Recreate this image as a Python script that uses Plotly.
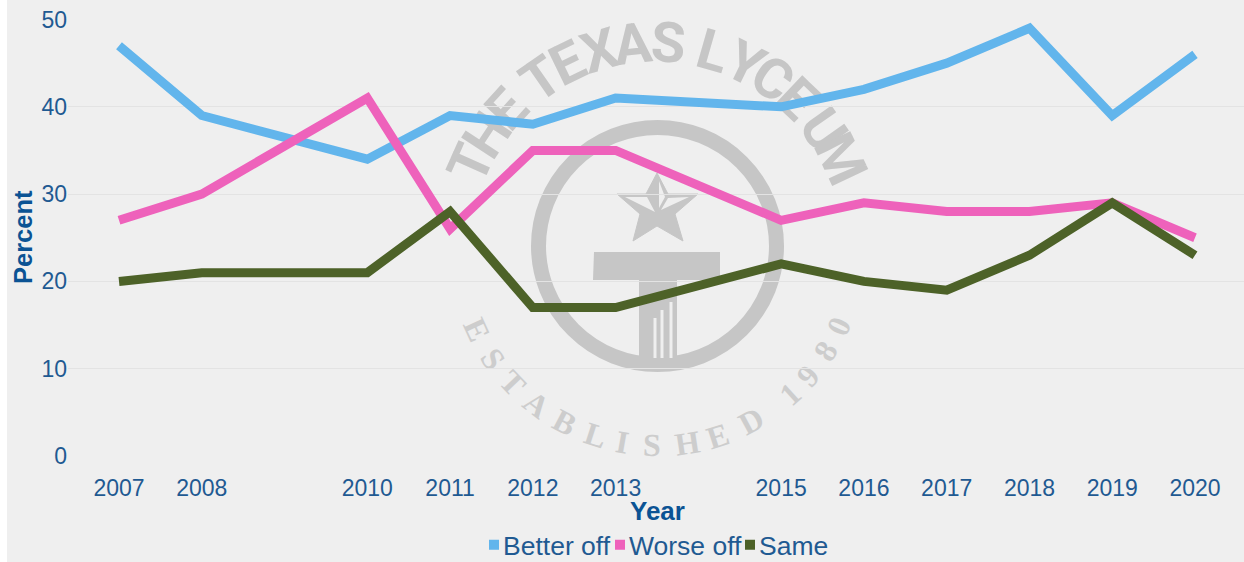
import math
import plotly.graph_objects as go

years = [2007, 2008, 2010, 2011, 2012, 2013, 2015, 2016, 2017, 2018, 2019, 2020]
better_off = [47, 39, 34, 39, 38, 41, 40, 42, 45, 49, 39, 46]
worse_off = [27, 30, 41, 26, 35, 35, 27, 29, 28, 28, 29, 25]
same = [20, 21, 21, 28, 17, 17, 22, 20, 19, 23, 29, 23]
y_ticks = [0, 10, 20, 30, 40, 50]

W, H = 1244, 562
BG, INK, TITLE, MARK = "#efefef", "#1f5a92", "#0b5394", "#c6c6c6"
L, R, T, B = 68, 1244, 19.5, 456
SERIES = [("Better off", better_off, "#62b5ec"),
          ("Worse off", worse_off, "#ee62bb"),
          ("Same", same, "#4d6228")]

def px(x):
    return x / W

def py(y):
    return 1 - y / H

top_letters = list("THETEXASLYCEUM")
top_angles = [-66, -56.7, -47.6, -34.8, -25.9, -16.4, -6.7, 3.1, 16, 26, 34.7, 43.6, 55, 64.6]
bottom_letters = list("ESTABLISHED1980")
bottom_angles = [-114.8, -124.6, -133.6, -142.6, -152.3, -162, -170, -178.6,
                 171.3, 162.3, 151.8, 138, 130.8, 122, 113.8]

def arc_text(letters, angles, cx, cy, r, size, family, color, bottom=False):
    out = []
    for ch, a in zip(letters, angles):
        rad = math.radians(a)
        x = cx + r * math.sin(rad)
        y = cy - r * math.cos(rad)
        rot = (a - 180) if bottom else a
        if rot < -180:
            rot += 360
        out.append(dict(text=f"<b>{ch}</b>", x=px(x), y=py(y), xref="paper", yref="paper",
                        showarrow=False, textangle=rot, xanchor="center", yanchor="middle",
                        font=dict(size=size, family=family, color=color)))
    return out

def path(points):
    return "M " + " L ".join(f"{px(x):.5f},{py(y):.5f}" for x, y in points) + " Z"

cx, cy = 657, 246
star = [(657, 173), (668, 194), (698, 194), (675, 214), (683, 241),
        (657, 226), (633, 241), (640, 214), (617, 194), (646, 194)]
t_shape = [(594, 252), (720, 252), (720, 280), (677, 280), (677, 358), (639, 358), (639, 280), (593, 280)]
facets = [
    [(659, 181), (665, 197), (659, 208)],
    [(689, 197), (668, 198), (661, 210)],
    [(625, 197), (647, 197), (655, 212)],
]

shapes = [
    dict(type="rect", xref="paper", yref="paper", x0=px(0), x1=px(7), y0=0, y1=1,
         fillcolor="white", line_width=0, layer="below"),
    dict(type="circle", xref="paper", yref="paper", x0=px(538.5), x1=px(776.5), y0=py(364.5), y1=py(127.5),
         line=dict(color=MARK, width=15), layer="below"),
    dict(type="path", xref="paper", yref="paper", path=path(star), fillcolor=MARK,
         line=dict(color=MARK, width=1), layer="below"),
    dict(type="path", xref="paper", yref="paper", path=path(t_shape), fillcolor=MARK,
         line_width=0, layer="below"),
]
for f in facets:
    shapes.append(dict(type="path", xref="paper", yref="paper", path=path(f), fillcolor=BG,
                       line_width=0, layer="below"))
for x, top in ((655, 318), (662, 310), (671, 302)):
    shapes.append(dict(type="line", xref="paper", yref="paper", x0=px(x), x1=px(x), y0=py(358), y1=py(top),
                       line=dict(color=BG, width=3), layer="below"))

annotations = []
annotations += arc_text(top_letters, top_angles, cx, cy, 203, 56, "Roboto", MARK)
annotations += arc_text(bottom_letters, bottom_angles, cx, cy, 199, 32, "Liberation Serif", "#cdcdcd", bottom=True)
annotations.append(dict(text="<b>Percent</b>", x=px(23), y=py(237), xref="paper", yref="paper",
                        showarrow=False, textangle=-90, xanchor="center", yanchor="middle",
                        font=dict(size=25.5, color=TITLE, family="Liberation Sans")))
annotations.append(dict(text="<b>Year</b>", x=px(657), y=py(511), xref="paper", yref="paper",
                        showarrow=False, xanchor="center", yanchor="middle",
                        font=dict(size=26, color=TITLE, family="Liberation Sans")))

fig = go.Figure()
for name, vals, color in SERIES:
    fig.add_trace(go.Scatter(x=years, y=vals, name=name, mode="lines", showlegend=False,
                             line=dict(color=color, width=9)))
for name, vals, color in SERIES:
    fig.add_trace(go.Scatter(x=[None], y=[None], name=name, mode="markers",
                             marker=dict(color=color, size=10, symbol="square")))

x_per_year = (1195 - 119) / 13
fig.update_layout(
    width=W, height=H, autosize=False,
    margin=dict(l=0, r=0, t=0, b=0, pad=0, autoexpand=False),
    paper_bgcolor=BG, plot_bgcolor="rgba(0,0,0,0)",
    font=dict(family="Liberation Sans", color=INK, size=23),
    shapes=shapes, annotations=annotations, hovermode=False,
    legend=dict(orientation="h", x=px(657), xanchor="center", y=0.5, yanchor="middle",
                font=dict(size=26.5, color=INK), traceorder="normal",
                bgcolor="rgba(0,0,0,0)"),
    xaxis=dict(domain=[px(L), 1],
               range=[2007 - (119 - L) / x_per_year, 2007 + (R - 119) / x_per_year],
               tickmode="array", tickvals=years, ticktext=[str(y) for y in years],
               showgrid=False, zeroline=False, showline=False, ticks="outside", ticklen=11,
               tickcolor="rgba(0,0,0,0)", tickfont=dict(size=23, color=INK)),
    yaxis=dict(domain=[py(B), py(T)], range=[0, 50], tickmode="array", tickvals=y_ticks,
               gridcolor="#e3e3e3", gridwidth=1, zeroline=False, showline=False,
               ticks="", tickfont=dict(size=23, color=INK)),
)
post = """
document.body.style.margin='0';document.body.style.overflow='hidden';
var target=document.querySelector('.layer-below .shapelayer');
document.querySelectorAll('.infolayer .annotation').forEach(function(a){target.appendChild(a);});
document.querySelectorAll('.js-line').forEach(function(l){l.style.strokeLinejoin='miter';});
var tx=[503,629,759], sx=[494,620,750];
document.querySelectorAll('.legend .traces').forEach(function(g,i){
  var t=g.querySelector('.legendtext'), tb=t.getBoundingClientRect();
  t.setAttribute('x', parseFloat(t.getAttribute('x')||0)+tx[i]-tb.left);
  var s=g.querySelector('.legendsymbols'), sb=s.getBoundingClientRect();
  s.setAttribute('transform','translate('+(sx[i]-(sb.left+sb.right)/2)+',0)');
});
var leg=document.querySelector('.legend'), lt=leg.querySelector('.legendtext').getBoundingClientRect();
var dy=546-(lt.top+lt.bottom)/2;
var m=/translate\\(\\s*([-0-9.]+)[ ,]+([-0-9.]+)\\s*\\)/.exec(leg.getAttribute('transform'));
leg.setAttribute('transform','translate('+m[1]+','+(parseFloat(m[2])+dy)+')');
"""
fig.write_html("out.html", post_script=post, config=dict(displayModeBar=False))
